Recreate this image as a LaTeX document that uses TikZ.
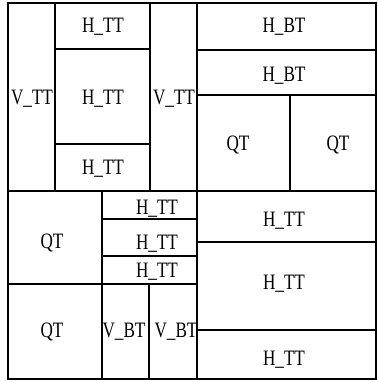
\documentclass[tikz,border=0pt]{standalone}
\usepackage{fontspec}
\newfontfamily\cellfont[FakeStretch=0.78]{Liberation Serif}

\begin{document}
\begin{tikzpicture}[x=1pt, y=-1pt,
  part/.style={line width=1.2pt},
  mid/.style={line width=2pt},
  lab/.style={font=\cellfont\fontsize{22}{22}\selectfont, inner sep=0pt, text height=14.5pt, text depth=0pt}
]
\useasboundingbox (0,0) rectangle (378,381);
% top left
\draw[part] (55,3) -- (55,191);
\draw[part] (150,3) -- (150,191);
\draw[part] (55,49) -- (150,49);
\draw[part] (55,144) -- (150,144);
% top right
\draw[part] (197,50) -- (376,50);
\draw[part] (197,95) -- (376,95);
\draw[part] (290,95) -- (290,191);
% bottom left
\draw[part] (102,191) -- (102,379);
\draw[part] (8,284) -- (197,284);
\draw[part] (102,219) -- (197,219);
\draw[part] (102,256) -- (197,256);
\draw[part] (149,284) -- (149,379);
% bottom right
\draw[part] (197,242) -- (376,242);
\draw[part] (197,330) -- (376,330);
% quadrants and border
\draw[mid] (197,3) -- (197,379);
\draw[mid] (8,191) -- (376,191);
\draw[part] (8,3) rectangle (376,379);

\node[lab] (vtt1) at (32,97) {V\_TT};
\node[lab] (htt1) at (103,25) {H\_TT};
\node[lab] (htt2) at (103,97) {H\_TT};
\node[lab] (htt3) at (103,167) {H\_TT};
\node[lab] (vtt2) at (174,97) {V\_TT};
\node[lab] (hbt1) at (284,25) {H\_BT};
\node[lab] (hbt2) at (284,74) {H\_BT};
\node[lab] (qt1) at (238,143) {QT};
\node[lab] (qt2) at (338,143) {QT};
\node[lab] (qt3) at (52,241) {QT};
\node[lab] (htt4) at (157,207) {H\_TT};
\node[lab] (htt5) at (157,242) {H\_TT};
\node[lab] (htt6) at (157,270) {H\_TT};
\node[lab] (qt4) at (52,330) {QT};
\node[lab] (vbt1) at (124,330) {V\_BT};
\node[lab] (vbt2) at (176,330) {V\_BT};
\node[lab] (htt7) at (284,219) {H\_TT};
\node[lab] (htt8) at (284,282) {H\_TT};
\node[lab] (htt9) at (284,358) {H\_TT};
\end{tikzpicture}
\end{document}
